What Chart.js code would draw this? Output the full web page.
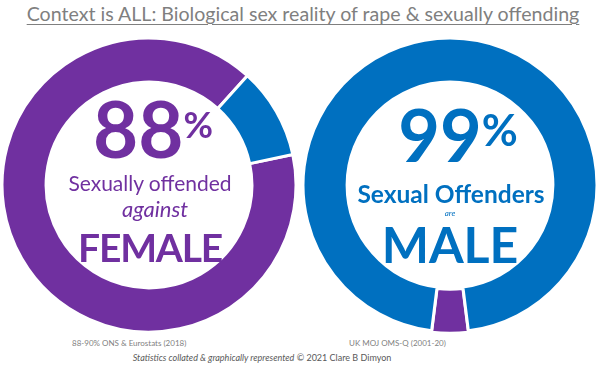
<!DOCTYPE html>
<html>
<head>
<meta charset="utf-8">
<script src="https://cdn.jsdelivr.net/npm/chart.js@4"></script>
<style>
  html, body { margin: 0; padding: 0; background: #fff; }
  #wrap { position: relative; width: 600px; height: 367px; overflow: hidden; font-family: Lato, "Open Sans", sans-serif; }
  #wrap canvas { position: absolute; top: 35px; }
  #leftChart { left: -1px; }
  #rightChart { left: 300px; }
  .t { position: absolute; white-space: nowrap; text-align: center; line-height: 1; }
  .purple { color: #7030A0; }
  .blue { color: #0070C0; }
  .pct { vertical-align: top; position: relative; }
</style>
</head>
<body>
<div id="wrap">
  <div class="t" id="title" style="left:0;width:606px;top:4px;font-size:19.6px;color:#7f7f7f;text-decoration:underline;text-underline-offset:3px;text-decoration-thickness:1px;">Context is ALL: Biological sex reality of rape &amp; sexually offending</div>

  <canvas id="leftChart" width="300" height="300"></canvas>
  <canvas id="rightChart" width="300" height="300"></canvas>

  <div class="t purple" style="left:3px;width:300px;top:89px;font-size:78px;font-weight:700;">88<span class="pct" style="font-size:36px;top:17px;">%</span></div>
  <div class="t purple" style="left:0;width:300px;top:172px;font-size:21px;">Sexually offended</div>
  <div class="t purple" style="left:5px;width:300px;top:198px;font-size:22px;font-style:italic;">against</div>
  <div class="t purple" style="left:0;width:300px;top:228px;font-size:39px;font-weight:700;letter-spacing:-1.2px;">FEMALE</div>

  <div class="t blue" style="left:308px;width:300px;top:98px;font-size:72px;font-weight:700;">99<span class="pct" style="font-size:44px;top:9px;">%</span></div>
  <div class="t blue" style="left:301px;width:300px;top:182px;font-size:24.5px;font-weight:700;">Sexual Offenders</div>
  <div class="t blue" style="left:300px;width:300px;top:209px;font-size:8px;font-style:italic;">are</div>
  <div class="t blue" style="left:300px;width:300px;top:219px;font-size:50px;font-weight:700;">MALE</div>

  <div class="t" style="left:72px;top:339px;font-size:8px;color:#7f7f7f;text-align:left;">88-90% ONS &amp; Eurostats (2018)</div>
  <div class="t" style="left:349px;top:339px;font-size:8px;color:#7f7f7f;text-align:left;">UK MOJ OMS-Q (2001-20)</div>
  <div class="t" style="left:0;width:524px;top:353px;font-size:9px;color:#595959;"><i>Statistics collated &amp; graphically represented</i> © 2021 Clare B Dimyon</div>
</div>

<script>
const leftLabels = ['Female', 'Male'];
const leftValues = [90, 10];
const leftColors = ['#7030A0', '#0070C0'];

const rightLabels = ['Female', 'Male'];
const rightValues = [4, 96];
const rightColors = ['#7030A0', '#0070C0'];

function makeDonut(id, labels, values, colors, rotation, offsets) {
  const ctx = document.getElementById(id).getContext('2d');
  return new Chart(ctx, {
    type: 'doughnut',
    data: {
      labels: labels,
      datasets: [{
        data: values,
        backgroundColor: colors,
        borderColor: '#ffffff',
        borderWidth: 3,
        offset: offsets,
        hoverOffset: 0
      }]
    },
    options: {
      responsive: false,
      animation: false,
      rotation: rotation,
      radius: 147,
      cutout: '70%',
      layout: { padding: 0 },
      plugins: {
        legend: { display: false },
        tooltip: { enabled: false }
      }
    }
  });
}

// female slice starts where the male slice ends (clockwise from 12 o'clock)
makeDonut('leftChart', leftLabels, leftValues, leftColors, 78, [0, 0]);

// right ring: small female slice centred at the bottom
const rightTotal = rightValues.reduce((a, b) => a + b, 0);
const rightRot = 180 - (rightValues[0] / rightTotal) * 360 / 2;
makeDonut('rightChart', rightLabels, rightValues, rightColors, rightRot, [3, 0]);
</script>
</body>
</html>
